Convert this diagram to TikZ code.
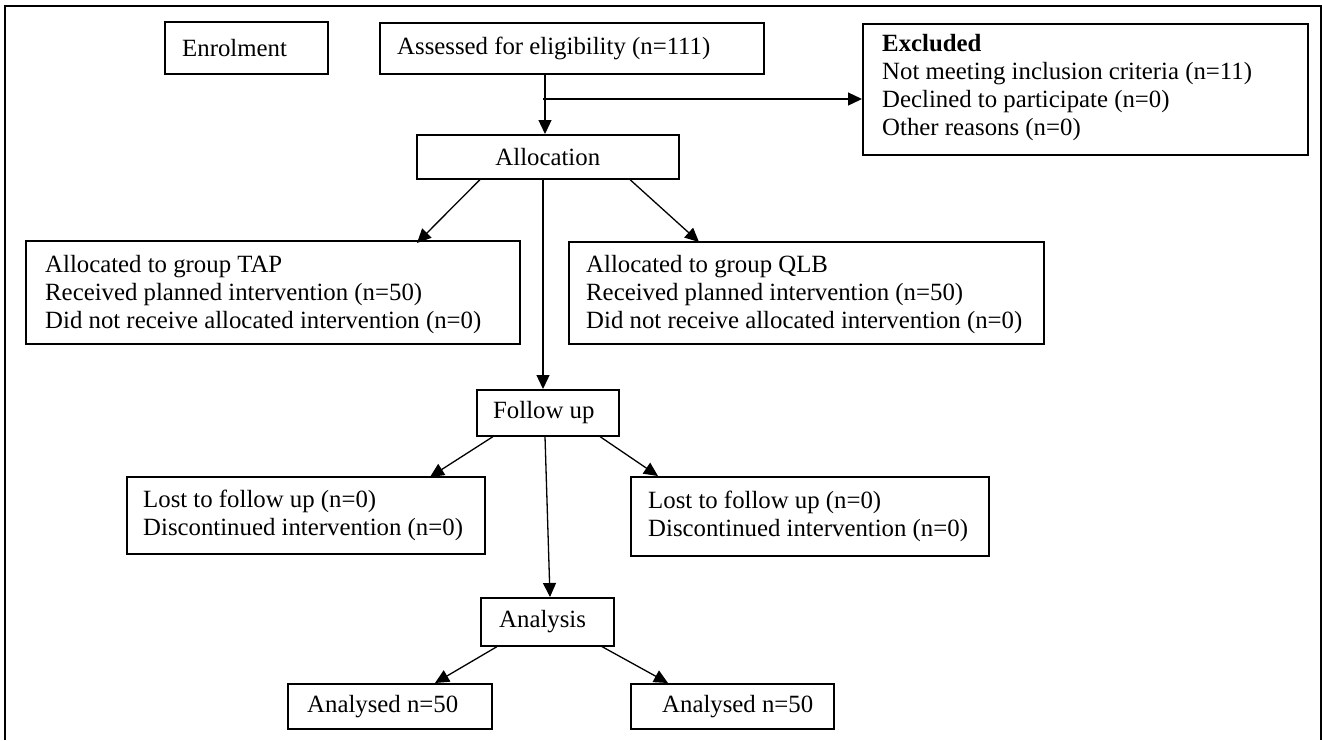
\documentclass[tikz,border=0pt]{standalone}
\usepackage{fontspec}
\setmainfont{Liberation Serif}
\usetikzlibrary{arrows.meta}
\begin{document}
\begin{tikzpicture}[x=1pt,y=-1pt,
  font=\fontsize{24.8}{28}\selectfont,
  box/.style={draw, line width=1.6pt, rectangle, inner sep=0pt, anchor=north west},
  lbl/.style={anchor=west, align=left, inner sep=0pt},
  arr/.style={line width=1.3pt, -{Triangle[length=14pt,width=13pt]}},
  frame/.style={line width=1.3pt}]
\useasboundingbox (0,0) rectangle (1322,740);
\draw[frame] (5,740) -- (5,6) -- (1321,6) -- (1321,740);

% boxes
\node[box, minimum width=163pt, minimum height=52pt] (enrol) at (164,21) {};
\node[lbl] (tenrol) at ([xshift=18pt]enrol.west) {Enrolment};

\node[box, minimum width=384pt, minimum height=51pt] (assess) at (379,22) {};
\node[lbl] (tassess) at ([xshift=18pt]assess.west) {Assessed for eligibility (n=111)};

\node[box, minimum width=445pt, minimum height=131pt] (excl) at (862,23) {};
\node[lbl] (texcl) at ([xshift=20pt,yshift=2pt]excl.west) {\textbf{Excluded}\\Not meeting inclusion criteria (n=11)\\Declined to participate (n=0)\\Other reasons (n=0)};

\node[box, minimum width=262pt, minimum height=44pt] (alloc) at (416,134) {Allocation};

\node[box, minimum width=494pt, minimum height=103pt] (tap) at (25,240) {};
\node[lbl] (ttap) at ([xshift=20pt,yshift=-2pt]tap.west) {Allocated to group TAP\\Received planned intervention (n=50)\\Did not receive allocated intervention (n=0)};

\node[box, minimum width=475pt, minimum height=102pt] (qlb) at (568,241) {};
\node[lbl] (tqlb) at ([xshift=18pt,yshift=-2pt]qlb.west) {Allocated to group QLB\\Received planned intervention (n=50)\\Did not receive allocated intervention (n=0)};

\node[box, minimum width=142pt, minimum height=46pt] (follow) at (476,389) {};
\node[lbl] (tfollow) at ([xshift=17pt]follow.west) {Follow up};

\node[box, minimum width=358pt, minimum height=77pt] (lostl) at (126,476) {};
\node[lbl] (tlostl) at ([xshift=17pt]lostl.west) {Lost to follow up (n=0)\\Discontinued intervention (n=0)};

\node[box, minimum width=358pt, minimum height=79pt] (lostr) at (630,476) {};
\node[lbl] (tlostr) at ([xshift=18pt]lostr.west) {Lost to follow up (n=0)\\Discontinued intervention (n=0)};

\node[box, minimum width=133pt, minimum height=48pt] (analysis) at (480,597) {};
\node[lbl] (tanalysis) at ([xshift=19pt]analysis.west) {Analysis};

\node[box, minimum width=204pt, minimum height=45pt] (anl) at (287,683) {};
\node[lbl] (tanl) at ([xshift=20pt]anl.west) {Analysed n=50};

\node[box, minimum width=203pt, minimum height=45pt] (anr) at (630,683) {};
\node[lbl] (tanr) at ([xshift=32pt]anr.west) {Analysed n=50};

% connectors
\draw[arr] ([xshift=166pt]assess.south west) -- ([xshift=129pt]alloc.north west);
\coordinate (br) at (543,99);
\draw[arr] (br) -- (br -| excl.west);

\draw[arr] ([xshift=64pt]alloc.south west) -- ([xshift=392pt,yshift=-3pt]tap.north west);
\draw[arr] ([xshift=127pt]alloc.south west) -- ([xshift=67pt]follow.north west);
\draw[arr] ([xshift=214pt]alloc.south west) -- ([xshift=131pt,yshift=-1pt]qlb.north west);

\draw[arr] ([xshift=17pt]follow.south west) -- ([xshift=304pt,yshift=-1pt]lostl.north west);
\draw[arr] ([xshift=69pt]follow.south west) -- ([xshift=70pt]analysis.north west);
\draw[arr] ([xshift=124pt]follow.south west) -- ([xshift=28pt]lostr.north west);

\draw[arr] ([xshift=17pt]analysis.south west) -- ([xshift=148pt]anl.north west);
\draw[arr] ([xshift=122pt]analysis.south west) -- ([xshift=38pt]anr.north west);
\end{tikzpicture}
\end{document}
